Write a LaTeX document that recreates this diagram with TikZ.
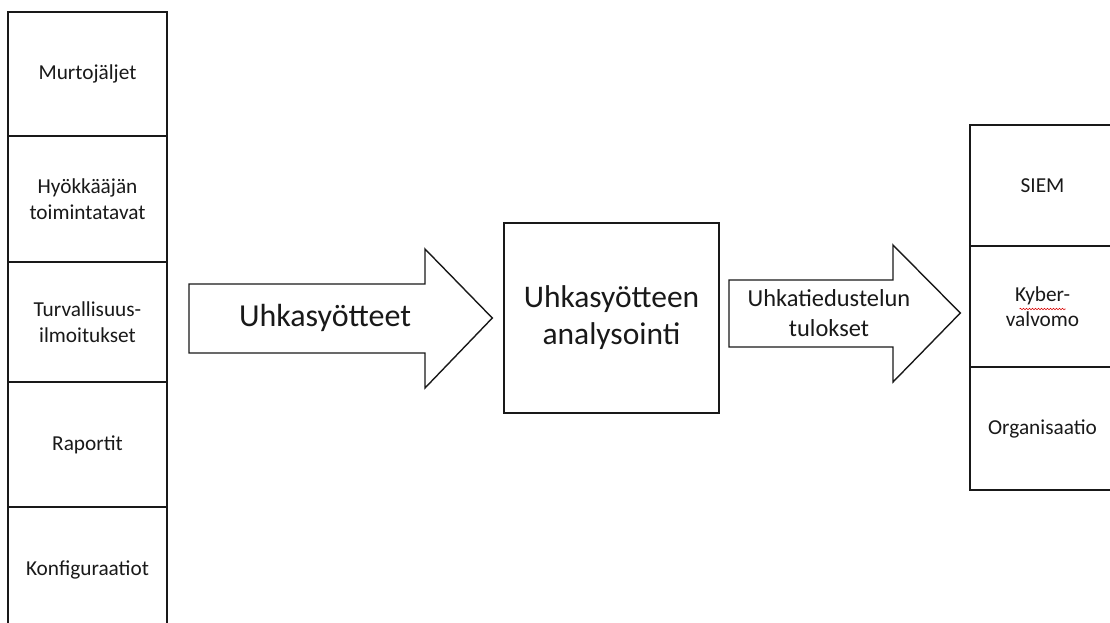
\documentclass[tikz,border=0pt]{standalone}
\usepackage{fontspec}
\setmainfont{Carlito}
\usetikzlibrary{decorations.pathmorphing}
\begin{document}
\begin{tikzpicture}[x=1pt,y=-1pt,
  line width=1.4pt,
  cell/.style={draw=black!90, rectangle, inner sep=0pt, align=center,
    font=\fontsize{21.3}{25.5}\selectfont, text=black!90},
  leftcell/.style={cell, minimum width=159pt},
  rightcell/.style={cell, minimum width=145pt},
  blockarrow/.style={draw=black!90, fill=white, line join=miter},
  arrowtext/.style={align=center, text=black!90, inner sep=0pt}]
\useasboundingbox (0,0) rectangle (1110,622);

% input sources column
\node[leftcell, minimum height=124pt] (murto)   at (87.5,74)   {Murtojäljet};
\node[leftcell, minimum height=126pt] (hyok)    at (87.5,199)  {Hyökkääjän\\toimintatavat};
\node[leftcell, minimum height=120pt] (turva)   at (87.5,322)  {Turvallisuus-\\ilmoitukset};
\node[leftcell, minimum height=125pt] (rap)     at (87.5,444.5){Raportit};
\node[leftcell, minimum height=125pt] (konf)    at (87.5,569.5){Konfiguraatiot};

% analysis box
\node[cell, minimum width=215pt, minimum height=190pt,
      font=\fontsize{31.5}{37}\selectfont] (analyysi) at (611.5,318)
      {Uhkasyötteen\\analysointi};

% output column
\node[rightcell, minimum height=121pt] (siem)  at (1042.5,185.5) {SIEM};
\node[rightcell, minimum height=121pt] (kyber) at (1042.5,306.5) {Kyber-\\valvomo};
\node[rightcell, minimum height=123pt] (org)   at (1042.5,428.5) {Organisaatio};
\draw[red!85!black, line width=0.6pt,
      decorate, decoration={snake, amplitude=0.7pt, segment length=3pt}]
  ([xshift=-23pt,yshift=-2.5pt]kyber.center) -- ([xshift=23pt,yshift=-2.5pt]kyber.center);

% block arrow: feeds into analysis
\coordinate (a1tip) at ([xshift=-11pt]analyysi.west);
\draw[blockarrow]
  (189,284) -- (425,284) -- (425,249) -- (a1tip)
  -- (425,388) -- (425,353) -- (189,353) -- cycle;
\node[arrowtext, font=\fontsize{32}{38}\selectfont] (syote) at (325,318) {Uhkasyötteet};

% block arrow: results to consumers
\coordinate (a2tip) at ([xshift=-9pt,yshift=-6.5pt]kyber.west);
\draw[blockarrow]
  (729,280) -- (893,280) -- (893,245) -- (a2tip)
  -- (893,382) -- (893,347) -- (729,347) -- cycle;
\node[arrowtext, font=\fontsize{24.4}{30}\selectfont] (tulos) at (829,313)
  {Uhkatiedustelun\\tulokset};
\end{tikzpicture}
\end{document}
